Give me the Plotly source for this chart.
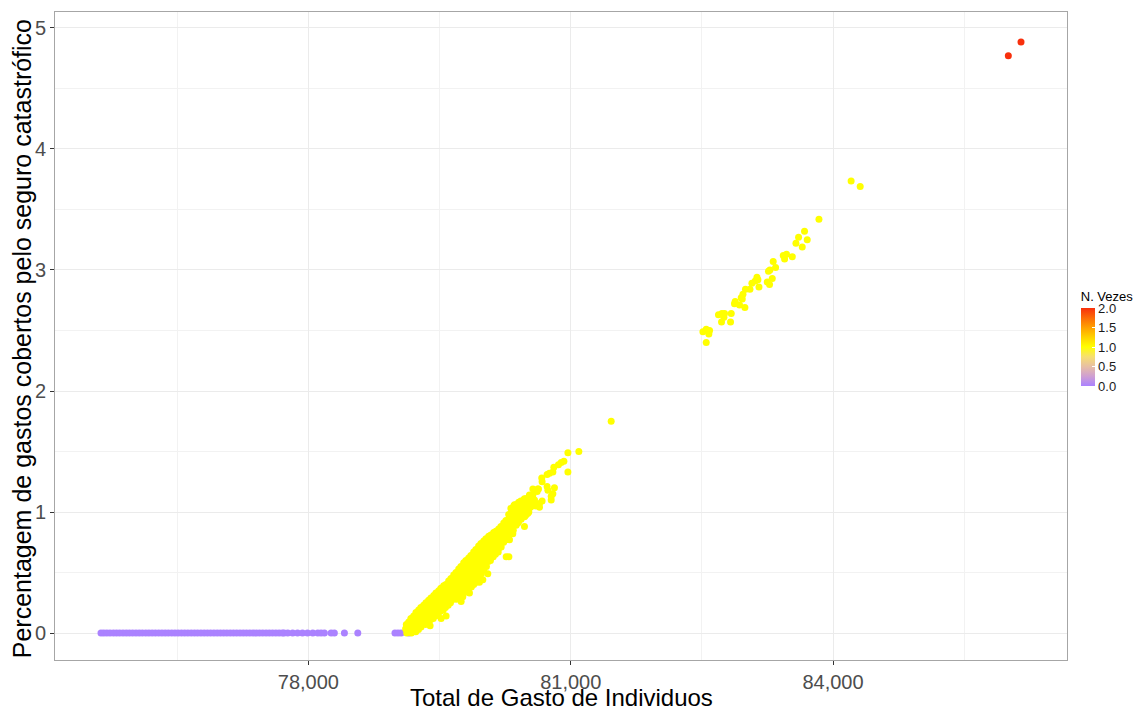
import plotly.graph_objects as go

# N. Vezes = 0: individuals with no catastrophic coverage (all at 0 %)
purple_x = [
    75628, 75660, 75695, 75731, 75770, 75806, 75842, 75880, 75917, 75953,
    75990, 76028, 76065, 76101, 76140, 76176, 76213, 76250, 76288, 76325,
    76362, 76398, 76437, 76474, 76510, 76548, 76585, 76622, 76660, 76697,
    76733, 76771, 76808, 76845, 76882, 76920, 76957, 76994, 77031, 77068,
    77106, 77143, 77180, 77218, 77255, 77292, 77330, 77367, 77404, 77441,
    77478, 77516, 77553, 77590, 77628, 77665, 77702, 77722,
    77764, 77820, 77876, 77932, 77990, 78050, 78108, 78145, 78183, 78260,
    78297, 78412, 78565, 78990, 79025, 79060, 79150,
]
purple_y = [0.0] * len(purple_x)

# N. Vezes = 1: main band
yellow_x = [
    79120, 79112, 79125,
    79172, 79180, 79168, 79178,
    79230, 79238, 79226, 79235, 79228,
    79286, 79294, 79283, 79291, 79288,
    79344, 79350, 79341, 79352, 79345, 79339,
    79401, 79408, 79398, 79410, 79403, 79396,
    79458, 79466, 79455, 79470, 79460, 79452,
    79515, 79522, 79512, 79525, 79518, 79510,
    79572, 79580, 79570, 79583, 79575, 79567,
    79630, 79638, 79627, 79640, 79633, 79625,
    79688, 79695, 79684, 79698, 79690, 79682, 79693,
    79744, 79752, 79741, 79755, 79747, 79739, 79750,
    79801, 79809, 79798, 79812, 79804, 79796, 79807,
    79858, 79866, 79855, 79869, 79861, 79853, 79864,
    79915, 79923, 79912, 79926, 79918, 79910, 79921,
    79973, 79980, 79970, 79983, 79976, 79968, 79979,
    80030, 80038, 80027, 80041, 80033, 80025, 80036,
    80087, 80095, 80084, 80098, 80090, 80082,
    80144, 80152, 80141, 80155, 80147, 80139,
    80202, 80210, 80199, 80212, 80205,
    80259, 80267, 80256, 80270, 80262,
    80316, 80324, 80313, 80327, 80319, 80311,
    80373, 80381, 80370, 80384, 80376,
    80430, 80438, 80427, 80441, 80433,
    80487, 80495, 80484, 80492,
    80545, 80552, 80541,
]
yellow_y = [
    0.07, 0.035, 0.0,
    0.12, 0.08, 0.04, 0.0,
    0.17, 0.13, 0.09, 0.05, 0.01,
    0.21, 0.17, 0.13, 0.09, 0.05,
    0.25, 0.21, 0.17, 0.13, 0.10, 0.07,
    0.29, 0.25, 0.22, 0.18, 0.14, 0.11,
    0.33, 0.29, 0.25, 0.22, 0.18, 0.14,
    0.37, 0.33, 0.29, 0.26, 0.22, 0.18,
    0.40, 0.36, 0.32, 0.29, 0.25, 0.21,
    0.45, 0.41, 0.37, 0.33, 0.29, 0.25,
    0.50, 0.46, 0.42, 0.38, 0.35, 0.31, 0.28,
    0.55, 0.51, 0.47, 0.43, 0.39, 0.35, 0.31,
    0.60, 0.56, 0.52, 0.48, 0.44, 0.39, 0.35,
    0.64, 0.60, 0.56, 0.52, 0.47, 0.43, 0.38,
    0.69, 0.65, 0.61, 0.56, 0.52, 0.47, 0.42,
    0.74, 0.70, 0.66, 0.62, 0.58, 0.53, 0.49,
    0.78, 0.74, 0.70, 0.66, 0.62, 0.58, 0.55,
    0.81, 0.77, 0.73, 0.69, 0.65, 0.60,
    0.84, 0.80, 0.76, 0.72, 0.69, 0.65,
    0.88, 0.84, 0.80, 0.76, 0.71,
    0.93, 0.89, 0.85, 0.81, 0.77,
    1.03, 0.99, 0.95, 0.91, 0.86, 0.82,
    1.06, 1.02, 0.98, 0.94, 0.89,
    1.09, 1.05, 1.01, 0.97, 0.94,
    1.11, 1.07, 1.02, 0.98,
    1.13, 1.08, 1.04,
]

# N. Vezes = 1: further points packed inside the band
fill_x = [
    79147, 79150, 79144,
    79204, 79207, 79201, 79206,
    79261, 79264, 79258, 79263, 79259,
    79318, 79321, 79315, 79320, 79317,
    79375, 79378, 79372, 79377, 79374, 79370,
    79433, 79436, 79430, 79435, 79432, 79428,
    79490, 79493, 79487, 79492, 79489, 79485,
    79547, 79550, 79544, 79549, 79546, 79542,
    79604, 79607, 79601, 79606, 79603, 79599,
    79662, 79665, 79659, 79664, 79661, 79657,
    79719, 79722, 79716, 79721, 79718, 79714, 79720,
    79776, 79779, 79773, 79778, 79775, 79771, 79777,
    79833, 79836, 79830, 79835, 79832, 79828, 79834,
    79890, 79893, 79887, 79892, 79889, 79885, 79891,
    79947, 79950, 79944, 79949, 79946, 79942, 79948,
    80005, 80008, 80002, 80007, 80004, 80000, 80006,
    80062, 80065, 80059, 80064, 80061, 80057,
    80119, 80122, 80116, 80121, 80118, 80114,
    80176, 80179, 80173, 80178, 80175, 80171,
    80234, 80237, 80231, 80236, 80233,
    80291, 80294, 80288, 80293, 80290, 80286,
    80348, 80351, 80345, 80350, 80347, 80343,
    80405, 80408, 80402, 80407, 80404,
    80462, 80465, 80459, 80464,
    80519, 80522, 80516, 80521,
]
fill_y = [
    0.09, 0.055, 0.02,
    0.14, 0.10, 0.06, 0.025,
    0.19, 0.15, 0.11, 0.07, 0.03,
    0.23, 0.19, 0.15, 0.11, 0.08,
    0.27, 0.23, 0.19, 0.15, 0.12, 0.09,
    0.31, 0.27, 0.23, 0.20, 0.16, 0.12,
    0.35, 0.31, 0.27, 0.24, 0.20, 0.16,
    0.39, 0.35, 0.31, 0.27, 0.23, 0.19,
    0.43, 0.39, 0.35, 0.31, 0.27, 0.23,
    0.48, 0.44, 0.40, 0.36, 0.32, 0.28,
    0.53, 0.49, 0.45, 0.41, 0.37, 0.33, 0.29,
    0.58, 0.54, 0.50, 0.46, 0.41, 0.37, 0.33,
    0.62, 0.58, 0.54, 0.50, 0.46, 0.41, 0.37,
    0.67, 0.63, 0.59, 0.54, 0.50, 0.45, 0.40,
    0.72, 0.68, 0.64, 0.59, 0.55, 0.50, 0.46,
    0.76, 0.72, 0.68, 0.64, 0.60, 0.56, 0.52,
    0.80, 0.76, 0.72, 0.68, 0.63, 0.59,
    0.83, 0.79, 0.75, 0.71, 0.67, 0.63,
    0.86, 0.82, 0.78, 0.74, 0.70, 0.67,
    0.91, 0.87, 0.83, 0.79, 0.75,
    0.98, 0.94, 0.90, 0.86, 0.82, 0.79,
    1.05, 1.01, 0.97, 0.93, 0.89, 0.85,
    1.08, 1.04, 1.00, 0.96, 0.92,
    1.10, 1.06, 1.02, 0.97,
    1.12, 1.08, 1.04, 1.00,
]

# N. Vezes = 1: scattered points around and above the band
spread_x = [
    79392, 79518, 79575, 79747, 79766, 79842, 79956, 79995, 80052, 80262,
    80293, 80300, 80338, 80281, 80224, 80396, 80471, 80479, 80510, 80471,
    80357, 80338, 80396, 80471, 80528, 80567, 80586, 80548, 80616, 80631,
    80643, 80643, 80673, 80669, 80673, 80730, 80757, 80796, 80807, 80860,
    80891, 80922, 80968, 81093, 80968, 80730, 80739, 80814, 80796, 80777,
    80777, 80597, 80624, 80567, 81463,
]
spread_y = [
    0.06, 0.12, 0.14, 0.26, 0.30, 0.33, 0.42, 0.44, 0.49, 0.63,
    0.63, 0.77, 0.82, 0.87, 0.88, 0.91, 0.88, 0.97, 0.99, 0.96,
    1.06, 1.03, 1.04, 1.11, 1.14, 1.14, 1.10, 1.06, 1.17, 1.19,
    1.07, 1.04, 1.09, 1.28, 1.25, 1.31, 1.32, 1.33, 1.37, 1.39,
    1.41, 1.42, 1.49, 1.50, 1.33, 1.21, 1.18, 1.20, 1.15, 1.13,
    1.10, 1.05, 1.19, 1.19, 1.75,
]

# N. Vezes = 1: upper group
upper_x = [
    84207, 84311, 83839, 83674, 83606, 83705, 83576, 83648, 83534, 83468,
    83431, 83446, 83316, 83343, 83278, 83262, 83305, 83248, 83274, 83153,
    83130, 83110, 83072, 83141, 83050, 82999, 82970, 82950, 82962, 82992,
    82931, 82881, 82873, 82836, 82759, 82729, 82690, 82752, 82725, 82828,
    82550, 82588, 82512, 82580, 82550,
]
upper_y = [
    3.735, 3.69, 3.42, 3.32, 3.27, 3.25, 3.22, 3.19, 3.11, 3.13,
    3.12, 3.09, 3.07, 3.02, 3.00, 2.99, 2.93, 2.90, 2.88, 2.86,
    2.94, 2.91, 2.89, 2.92, 2.84, 2.84, 2.80, 2.77, 2.76, 2.69,
    2.71, 2.74, 2.72, 2.64, 2.64, 2.64, 2.63, 2.61, 2.57, 2.57,
    2.51, 2.50, 2.49, 2.47, 2.40,
]

# N. Vezes = 2
red_x = [86150, 86005]
red_y = [4.885, 4.77]

ones_x = yellow_x + fill_x + spread_x + upper_x
ones_y = yellow_y + fill_y + spread_y + upper_y

x_vals = purple_x + ones_x + red_x
y_vals = purple_y + ones_y + red_y
n_vezes = [0] * len(purple_x) + [1] * len(ones_x) + [2] * len(red_x)

colorscale = [
    [0.0, "#AB82FF"],
    [0.125, "#CF9FD2"],
    [0.25, "#E7BFA4"],
    [0.375, "#F6DF70"],
    [0.5, "#FFFF00"],
    [0.625, "#FFD200"],
    [0.75, "#FFA000"],
    [0.875, "#FC6A06"],
    [1.0, "#F8300C"],
]

FONT = "Liberation Sans, Arial, sans-serif"

fig = go.Figure(
    go.Scatter(
        x=x_vals,
        y=y_vals,
        mode="markers",
        marker=dict(
            size=7,
            color=n_vezes,
            colorscale=colorscale,
            cmin=0,
            cmax=2,
            line=dict(width=0),
            colorbar=dict(
                title=dict(text="N. Vezes", side="top",
                           font=dict(size=13, color="black", family=FONT)),
                x=1.0136, xanchor="left", xpad=0,
                y=0.4228, yanchor="bottom", ypad=0,
                len=98, lenmode="pixels",
                thickness=14,
                outlinewidth=0,
                tickvals=[0, 0.5, 1, 1.5, 2],
                ticktext=["0.0", "0.5", "1.0", "1.5", "2.0"],
                ticks="inside", ticklen=3, tickcolor="white",
                tickfont=dict(size=13, color="#1A1A1A", family=FONT),
            ),
        ),
        showlegend=False,
        hoverinfo="x+y",
    )
)

fig.update_layout(
    width=1137,
    height=712,
    margin=dict(l=55, r=70, t=12, b=52, autoexpand=False),
    paper_bgcolor="white",
    plot_bgcolor="white",
    font=dict(family=FONT),
    xaxis=dict(
        range=[75102, 86676],
        tick0=78000, dtick=3000,
        tickformat=",d",
        showgrid=True, gridcolor="#EBEBEB", gridwidth=1,
        minor=dict(dtick=1500, tick0=78000, showgrid=True,
                   gridcolor="#F2F2F2", gridwidth=0.6),
        zeroline=False,
        showline=True, linecolor="#A6A6A6", linewidth=1, mirror=True,
        ticks="outside", ticklen=4, tickcolor="#333333",
        tickfont=dict(size=20, color="#4D4D4D"),
        automargin=False,
    ),
    yaxis=dict(
        range=[-0.223, 5.132],
        tick0=0, dtick=1,
        tickformat="d",
        showgrid=True, gridcolor="#EBEBEB", gridwidth=1,
        minor=dict(dtick=0.5, tick0=0, showgrid=True,
                   gridcolor="#F2F2F2", gridwidth=0.6),
        zeroline=False,
        showline=True, linecolor="#A6A6A6", linewidth=1, mirror=True,
        ticks="outside", ticklen=4, tickcolor="#333333",
        tickfont=dict(size=20, color="#4D4D4D"),
        automargin=False,
    ),
    annotations=[
        dict(text="Total de Gasto de Individuos",
             xref="paper", yref="paper", x=0.5, y=-0.0586,
             xanchor="center", yanchor="middle", showarrow=False,
             font=dict(size=24, color="black")),
        dict(text="Percentagem de gastos cobertos pelo seguro catastrófico",
             xref="paper", yref="paper", x=-0.0326, y=0.495,
             xanchor="center", yanchor="middle", textangle=-90,
             showarrow=False, font=dict(size=25, color="black")),
    ],
)

fig.write_html("out.html")
